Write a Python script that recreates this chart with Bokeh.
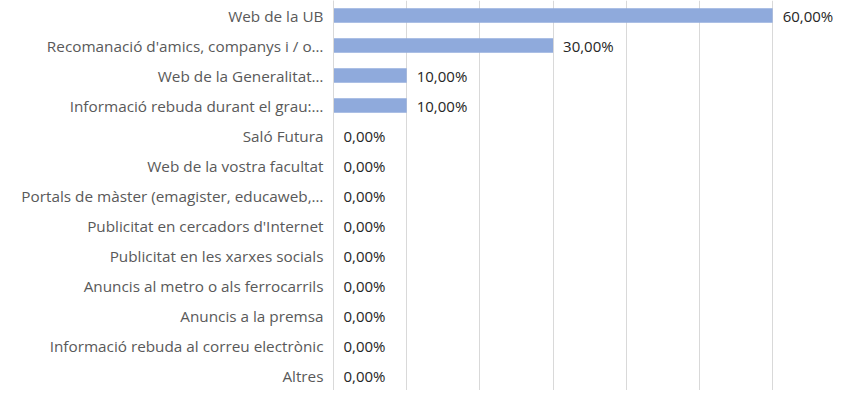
from bokeh.plotting import figure
from bokeh.models import ColumnDataSource, FixedTicker, Range1d
from bokeh.core.properties import value
from bokeh.embed import file_html
from bokeh.resources import INLINE

categories = [
    "Web de la UB",
    "Recomanació d'amics, companys i / o…",
    "Web de la Generalitat…",
    "Informació rebuda durant el grau:…",
    "Saló Futura",
    "Web de la vostra facultat",
    "Portals de màster (emagister, educaweb,…",
    "Publicitat en cercadors d'Internet",
    "Publicitat en les xarxes socials",
    "Anuncis al metro o als ferrocarrils",
    "Anuncis a la premsa",
    "Informació rebuda al correu electrònic",
    "Altres",
]
values = [0.60, 0.30, 0.10, 0.10, 0, 0, 0, 0, 0, 0, 0, 0, 0]
grid_ticks = [0, 0.1, 0.2, 0.3, 0.4, 0.5, 0.6]

labels = [f"{v*100:.2f}".replace(".", ",") + "%" for v in values]
src = ColumnDataSource(dict(cat=categories, val=values, lab=labels))

FONT = "Open Sans"

p = figure(width=838, height=390, y_range=list(reversed(categories)),
           x_range=Range1d(0, 0.69), output_backend="svg", toolbar_location=None,
           min_border_left=333, min_border_right=0, min_border_top=0, min_border_bottom=0)
p.outline_line_color = None
p.background_fill_color = "white"

p.hbar(y="cat", right="val", left=0, height=0.48, source=src,
       fill_color="#8FAADC", line_color=None)
p.text(x="val", y="cat", text="lab", source=src, x_offset=10,
       text_baseline="middle", text_align="left", text_font=value(FONT),
       text_font_size="15px", text_color="#262626")

p.xaxis.visible = False
p.xgrid.ticker = FixedTicker(ticks=grid_ticks)
p.xgrid.grid_line_color = "#d9d9d9"
p.xgrid.grid_line_width = 1
p.ygrid.grid_line_color = None

ya = p.yaxis[0]
ya.axis_line_color = "#d9d9d9"
ya.major_tick_line_color = None
ya.minor_tick_line_color = None
ya.major_label_standoff = 4
ya.major_label_text_font = FONT
ya.major_label_text_font_size = "15.3px"
ya.major_label_text_color = "#595959"

open("out.html", "w").write(file_html(p, INLINE))
